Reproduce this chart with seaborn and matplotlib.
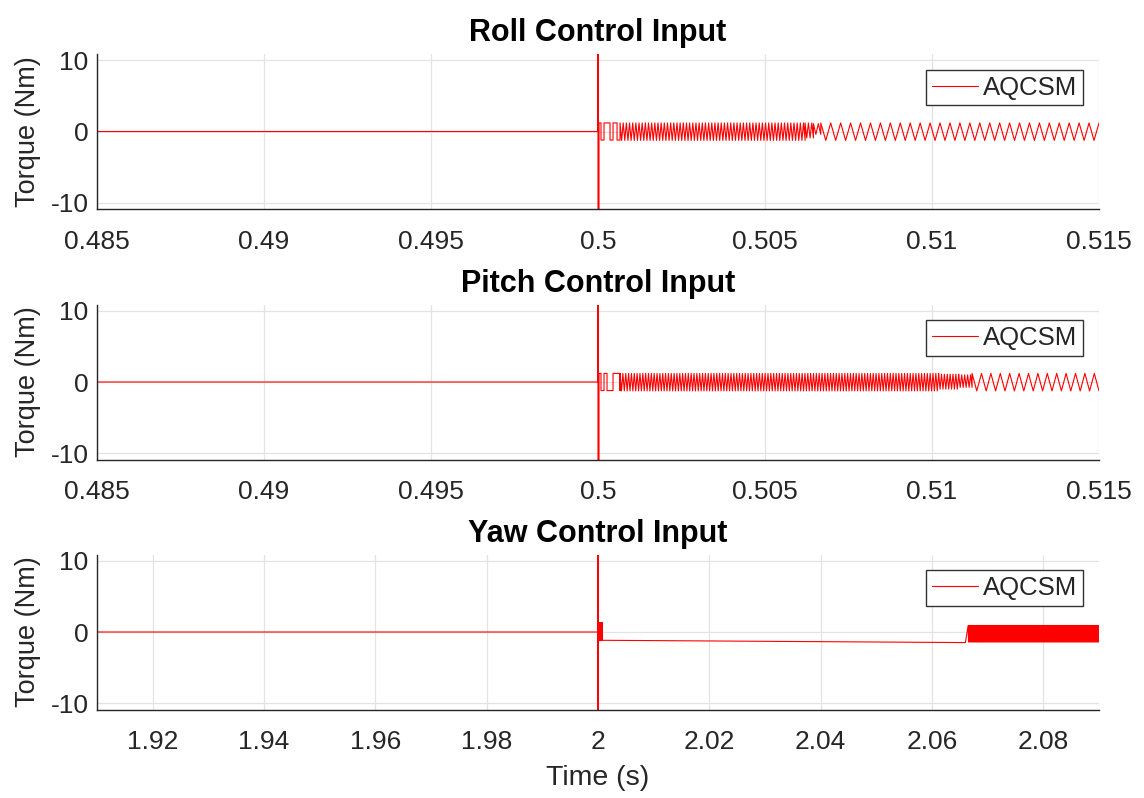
import numpy as np
import pandas as pd
import matplotlib
matplotlib.use("Agg")
import matplotlib.pyplot as plt
import seaborn as sns

# ---- panel text -----------------------------------------------------------
titles = ["Roll Control Input", "Pitch Control Input", "Yaw Control Input"]
series_label = "AQCSM"
y_label = "Torque (Nm)"
x_label = "Time (s)"

x_limits = [(0.485, 0.515), (0.485, 0.515), (1.91, 2.09)]
x_ticks_top = [0.485, 0.49, 0.495, 0.5, 0.505, 0.51, 0.515]
x_tick_labels_top = ["0.485", "0.49", "0.495", "0.5", "0.505", "0.51", "0.515"]
x_ticks_yaw = [1.92, 1.94, 1.96, 1.98, 2.0, 2.02, 2.04, 2.06, 2.08]
x_tick_labels_yaw = ["1.92", "1.94", "1.96", "1.98", "2", "2.02", "2.04", "2.06", "2.08"]
y_ticks = [-10, 0, 10]
y_limits = (-10.85, 10.85)

# ---- roll channel ---------------------------------------------------------
roll_rest = [0.485, 0.0]                 # quiet start: time, torque
roll_spike = [0.5, 14.0, -14.0]          # switching instant, peak, trough
roll_pulse_t = [0.50003, 0.50009, 0.50018, 0.50027, 0.50036, 0.50045, 0.50057, 0.50066]
roll_pulse_v = [1.2, -1.2, 1.2, 1.2, -1.2, 1.2, -1.2, 1.2]
roll_chat_start = [0.50066, 0.50620, 0.50645, 0.50667]
roll_chat_end = [0.50620, 0.50645, 0.50667, 0.51500]
roll_chat_low = [-1.25, -0.9, -0.4, -1.25]
roll_chat_high = [1.2, 1.2, 1.1, 1.2]
roll_chat_period = [0.000095, 0.000095, 0.00014, 0.0003]

# ---- pitch channel --------------------------------------------------------
pitch_rest = [0.485, 0.0]
pitch_spike = [0.5, 14.0, -14.0]
pitch_pulse_t = [0.50003, 0.50009, 0.50018, 0.50027, 0.50036, 0.50045, 0.50057, 0.50066]
pitch_pulse_v = [1.2, -1.2, 1.2, -1.2, -1.2, 1.2, 1.2, -1.2]
pitch_chat_start = [0.50066, 0.51020, 0.51080, 0.51120]
pitch_chat_end = [0.51020, 0.51080, 0.51120, 0.51500]
pitch_chat_low = [-1.25, -1.0, -0.75, -1.25]
pitch_chat_high = [1.2, 1.1, 1.0, 1.2]
pitch_chat_period = [0.000085, 0.000085, 0.00009, 0.00028]

# ---- yaw channel ----------------------------------------------------------
yaw_rest = [1.91, 0.0]
yaw_spike = [2.0, 14.0, -14.0]
yaw_chat_start = [2.00002, 2.0665]
yaw_chat_end = [2.0008, 2.0900]
yaw_chat_low = [-1.2, -1.39]
yaw_chat_high = [1.3, 0.92]
yaw_chat_period = [0.00006, 0.00012]
yaw_drift_t = [2.0008, 2.0660]           # slow drift between the two bursts
yaw_drift_v = [-1.16, -1.48]


def chatter(t0, t1, lo, hi, period):
    """Zig-zag switching between two levels over [t0, t1]."""
    n = max(int(round((t1 - t0) / (period / 2.0))), 1)
    t = np.linspace(t0, t1, n + 1)
    v = np.where(np.arange(n + 1) % 2 == 0, hi, lo)
    return list(t), list(v)


def build(rest, spike, pulse_t, pulse_v, starts, ends, lows, highs, periods,
          drift_t=None, drift_v=None):
    ts = [rest[0], spike[0], spike[0], spike[0]]
    vs = [rest[1], rest[1], spike[1], spike[2]]
    # square switching pulses right after the event
    for a, b in zip(pulse_t, pulse_v):
        ts += [a, a]
        vs += [vs[-1], b]
    for i, (a, b, lo, hi, p) in enumerate(zip(starts, ends, lows, highs, periods)):
        ct, cv = chatter(a, b, lo, hi, p)
        ts += ct
        vs += cv
        if drift_t is not None and i == 0:
            ts += drift_t
            vs += drift_v
    return pd.DataFrame({"t": ts, "u": vs})


roll_df = build(roll_rest, roll_spike, roll_pulse_t, roll_pulse_v,
                roll_chat_start, roll_chat_end, roll_chat_low, roll_chat_high,
                roll_chat_period)
pitch_df = build(pitch_rest, pitch_spike, pitch_pulse_t, pitch_pulse_v,
                 pitch_chat_start, pitch_chat_end, pitch_chat_low, pitch_chat_high,
                 pitch_chat_period)
yaw_df = build(yaw_rest, yaw_spike, [], [],
               yaw_chat_start, yaw_chat_end, yaw_chat_low, yaw_chat_high,
               yaw_chat_period, yaw_drift_t, yaw_drift_v)

# ---- styling --------------------------------------------------------------
sns.set_theme(style="whitegrid")
plt.rcParams["font.family"] = ["Liberation Sans", "DejaVu Sans"]
plt.rcParams["axes.unicode_minus"] = False

fig = plt.figure(figsize=(11.44, 7.98), dpi=100)
left, width, height = 97 / 1144, 1002 / 1144, 155 / 798
bottoms = [1 - 209 / 798, 1 - 459.5 / 798, 1 - 709.5 / 798]

frames = [roll_df, pitch_df, yaw_df]
ax_color = "#262626"

for k, (df, title) in enumerate(zip(frames, titles)):
    ax = fig.add_axes([left, bottoms[k], width, height])
    sns.lineplot(data=df, x="t", y="u", ax=ax, color="#ff0000", lw=0.8,
                 sort=False, estimator=None, label=series_label)
    ax.set_xlim(*x_limits[k])
    ax.set_ylim(*y_limits)
    if k < 2:
        ax.set_xticks(x_ticks_top)
        ax.set_xticklabels(x_tick_labels_top)
    else:
        ax.set_xticks(x_ticks_yaw)
        ax.set_xticklabels(x_tick_labels_yaw)
    ax.set_yticks(y_ticks)
    ax.set_yticklabels([str(v) for v in y_ticks])
    ax.set_title(title, fontsize=22, fontweight="bold", pad=9, color="black")
    ax.set_ylabel(y_label, fontsize=19.5, color=ax_color, labelpad=7)
    ax.set_xlabel(x_label if k == 2 else "", fontsize=20.5, color=ax_color, labelpad=8)
    ax.set_facecolor("white")
    ax.grid(True, color="#e3e3e3", lw=0.9)
    for side in ["top", "right"]:
        ax.spines[side].set_visible(False)
    for side in ["left", "bottom"]:
        ax.spines[side].set_color(ax_color)
        ax.spines[side].set_linewidth(1.0)
    ax.tick_params(axis="both", direction="in", length=7, width=0.9,
                   colors=ax_color, labelsize=19)
    ax.tick_params(axis="x", pad=15)
    ax.tick_params(axis="y", pad=6)
    leg = ax.legend(loc="upper right", bbox_to_anchor=(0.984, 0.897),
                    borderaxespad=0, fancybox=False, framealpha=1,
                    edgecolor="#333333", fontsize=18.5, handlelength=1.8,
                    handletextpad=0.2, borderpad=0.22)
    leg.get_frame().set_linewidth(1.0)
    for line in leg.get_lines():
        line.set_linewidth(0.8)

fig.savefig("out.png", dpi=100, facecolor="white")
